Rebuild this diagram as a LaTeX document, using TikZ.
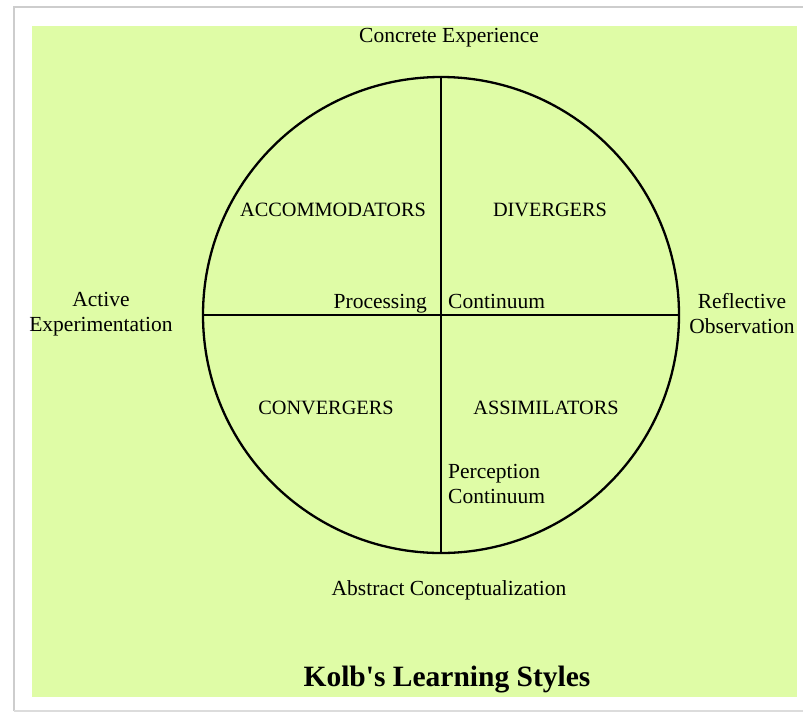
\documentclass[tikz,border=0pt]{standalone}
\usepackage{fontspec}
\setmainfont{Liberation Serif}
\definecolor{kolbgreen}{RGB}{223,252,166}
\definecolor{framegray}{RGB}{205,205,205}
\tikzset{
  label/.style={inner sep=0pt, font=\fontsize{21.5}{25}\selectfont, align=center},
  quadrant/.style={label, font=\fontsize{20.3}{25}\selectfont},
  axis/.style={line width=2.5pt},
}
\begin{document}
\begin{tikzpicture}[x=1pt, y=-1pt]
      \useasboundingbox (0,0) rectangle (803,713);
      \fill[white] (0,0) rectangle (803,713);
      %
      \draw[framegray, line width=2pt] (14,711) -- (14,7) -- (803,7); % frame
      \draw[framegray!70, line width=1.5pt] (14,711) -- (803,711);
      \fill[kolbgreen] (32,26) rectangle (797,697);                  % panel
      %
      \node[circle, draw, line width=2.3pt, minimum size=476pt, inner sep=0pt] (wheel) at (441,315) {};
      \draw[axis] (wheel.north) -- (wheel.south);   % perception
      \draw[axis] (wheel.west) -- (wheel.east);     % processing
      %
      \node[label] (ce) at (449,38) {Concrete Experience};          % poles
      \node[label] (ac) at (449,590) {Abstract Conceptualization};
      \node[label] (ae) at (101,314) {Active\\Experimentation};
      \node[label] (ro) at (742,314) {Reflective\\Observation};
      %
      \node[quadrant] (acc) at (333,210) {ACCOMMODATORS};          % quadrants
      \node[quadrant] (div) at (550,210) {DIVERGERS};
      \node[quadrant] (con) at (326,408) {CONVERGERS};
      \node[quadrant] (ass) at (546,408) {ASSIMILATORS};
      %
      \node[label, anchor=base east] (proc) at (427,308) {Processing};   % continua
      \node[label, anchor=base west] (pcont) at (448,308) {Continuum};
      \node[label, anchor=west, align=left] (perc) at (448,484) {Perception\\Continuum};
      %
      \node[inner sep=0pt, font=\fontsize{29.5}{34}\selectfont\bfseries] (title) at (447,680) {Kolb\textquotesingle s Learning Styles};
      %
\end{tikzpicture}
\end{document}
